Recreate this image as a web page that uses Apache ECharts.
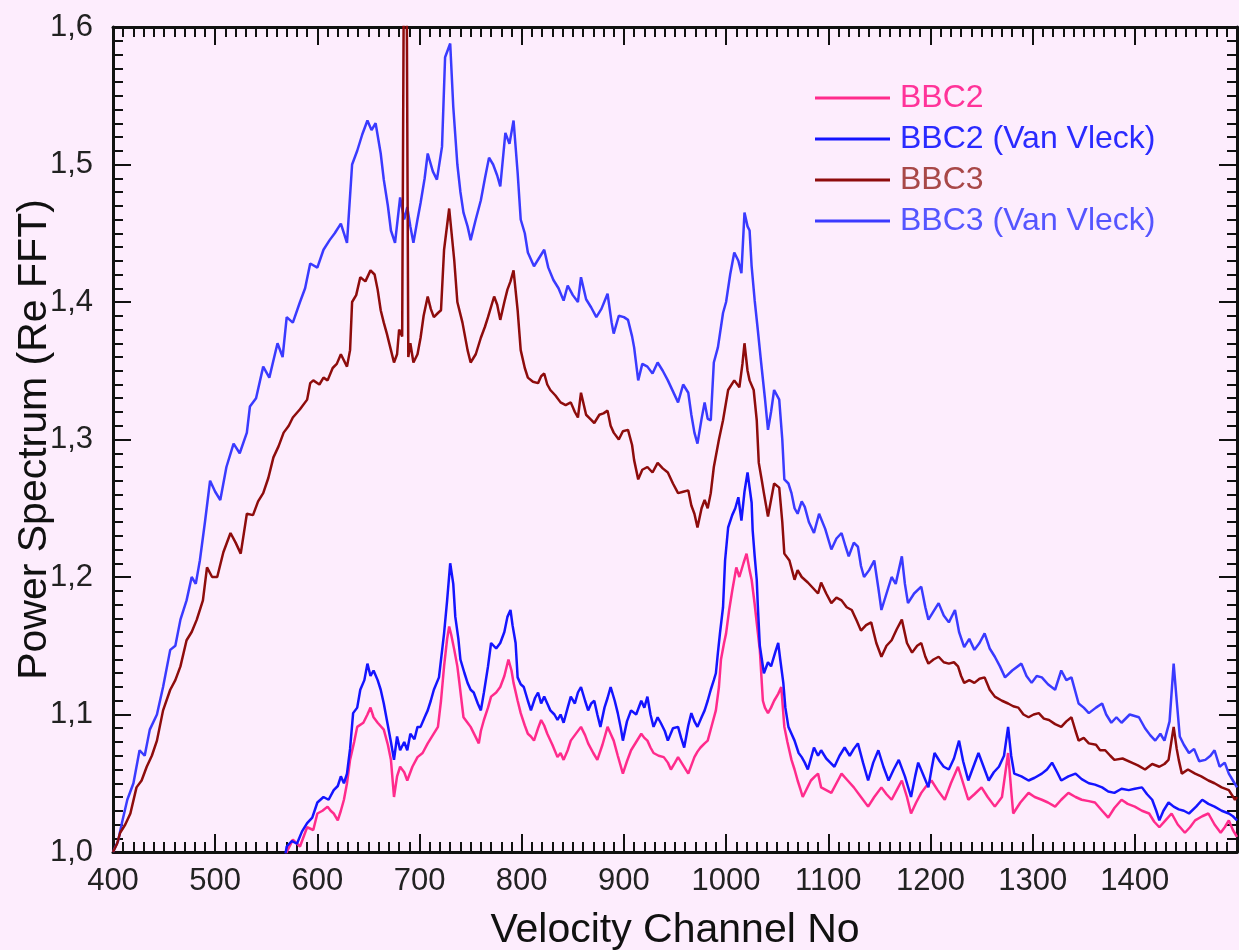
<!DOCTYPE html>
<html>
<head>
<meta charset="utf-8">
<script src="https://cdn.jsdelivr.net/npm/echarts@6/dist/echarts.min.js"></script>
<style>
  html, body { margin: 0; padding: 0; background: #fdedfd; }
  #chart { width: 1239px; height: 950px; }
</style>
</head>
<body>
<div id="chart"></div>
<script>
// [channel, power] pairs
var bbc2 = [[568,0.992],[570,1.000],[576,1.009],[583,1.004],[587,1.012],[590,1.018],[596,1.016],[600,1.028],[605,1.030],[610,1.033],[613,1.030],[616,1.028],[620,1.023],[623,1.030],[626,1.038],[629,1.050],[632,1.067],[636,1.080],[639,1.091],[645,1.094],[649,1.100],[652,1.105],[655,1.098],[659,1.094],[665,1.089],[669,1.078],[672,1.067],[675,1.040],[678,1.055],[681,1.062],[685,1.058],[688,1.052],[693,1.062],[698,1.069],[703,1.072],[708,1.079],[713,1.085],[718,1.091],[721,1.110],[724,1.135],[727,1.155],[729,1.164],[731,1.158],[734,1.147],[737,1.135],[739,1.123],[743,1.098],[747,1.094],[750,1.091],[754,1.085],[758,1.079],[760,1.088],[763,1.096],[767,1.105],[770,1.113],[775,1.116],[779,1.120],[783,1.128],[787,1.140],[790,1.132],[792,1.123],[796,1.110],[799,1.101],[803,1.092],[806,1.086],[809,1.084],[812,1.081],[816,1.090],[819,1.096],[822,1.092],[825,1.086],[830,1.078],[835,1.069],[838,1.072],[841,1.067],[845,1.074],[848,1.081],[852,1.085],[858,1.091],[862,1.085],[865,1.079],[870,1.072],[874,1.067],[879,1.078],[884,1.091],[887,1.086],[890,1.081],[894,1.070],[899,1.057],[903,1.066],[907,1.074],[912,1.080],[917,1.086],[920,1.083],[923,1.081],[926,1.076],[929,1.072],[934,1.070],[939,1.069],[943,1.065],[946,1.060],[950,1.065],[953,1.069],[958,1.063],[963,1.057],[966,1.063],[969,1.069],[972,1.073],[975,1.076],[979,1.079],[982,1.081],[986,1.092],[990,1.103],[993,1.120],[995,1.140],[998,1.152],[1000,1.159],[1003,1.176],[1006,1.190],[1010,1.207],[1013,1.200],[1017,1.210],[1020,1.217],[1023,1.205],[1025,1.198],[1028,1.180],[1031,1.160],[1033,1.147],[1036,1.110],[1038,1.105],[1041,1.101],[1044,1.105],[1047,1.110],[1051,1.115],[1054,1.120],[1057,1.091],[1060,1.080],[1064,1.067],[1067,1.060],[1070,1.052],[1073,1.045],[1075,1.040],[1079,1.046],[1083,1.052],[1087,1.055],[1090,1.057],[1093,1.047],[1098,1.045],[1103,1.043],[1108,1.050],[1113,1.057],[1119,1.052],[1125,1.047],[1132,1.040],[1139,1.033],[1145,1.040],[1152,1.047],[1157,1.042],[1162,1.038],[1167,1.045],[1172,1.052],[1177,1.040],[1181,1.028],[1186,1.036],[1191,1.043],[1196,1.048],[1201,1.052],[1207,1.045],[1214,1.038],[1220,1.050],[1227,1.062],[1232,1.050],[1237,1.038],[1243,1.042],[1250,1.047],[1256,1.040],[1263,1.033],[1270,1.040],[1276,1.072],[1279,1.045],[1281,1.028],[1288,1.036],[1296,1.043],[1302,1.040],[1309,1.038],[1315,1.036],[1322,1.033],[1328,1.038],[1335,1.043],[1342,1.040],[1348,1.038],[1355,1.037],[1361,1.036],[1368,1.030],[1374,1.025],[1380,1.032],[1387,1.038],[1393,1.035],[1400,1.033],[1407,1.030],[1414,1.028],[1419,1.022],[1424,1.018],[1430,1.023],[1436,1.028],[1442,1.020],[1449,1.014],[1454,1.018],[1459,1.023],[1466,1.026],[1472,1.028],[1478,1.020],[1484,1.014],[1488,1.018],[1492,1.023],[1496,1.016],[1500,1.011]];

var bbc2vv = [[568,0.995],[570,1.004],[575,1.008],[580,1.006],[585,1.015],[590,1.021],[595,1.025],[600,1.036],[606,1.040],[611,1.038],[616,1.045],[620,1.048],[623,1.055],[626,1.050],[629,1.057],[632,1.075],[635,1.101],[639,1.105],[642,1.118],[646,1.125],[649,1.137],[652,1.128],[655,1.132],[659,1.125],[662,1.118],[665,1.108],[668,1.096],[672,1.080],[675,1.067],[678,1.084],[681,1.074],[685,1.080],[688,1.074],[691,1.086],[695,1.082],[698,1.091],[701,1.091],[705,1.098],[708,1.103],[711,1.110],[714,1.118],[719,1.127],[724,1.159],[727,1.183],[730,1.210],[733,1.195],[735,1.171],[738,1.155],[740,1.140],[744,1.130],[747,1.123],[750,1.118],[753,1.116],[757,1.108],[760,1.103],[763,1.116],[767,1.135],[770,1.152],[775,1.148],[779,1.152],[783,1.160],[786,1.171],[789,1.176],[791,1.165],[794,1.152],[796,1.127],[799,1.122],[802,1.120],[806,1.110],[809,1.103],[813,1.112],[816,1.116],[819,1.108],[822,1.113],[825,1.108],[828,1.103],[832,1.100],[835,1.096],[838,1.100],[841,1.094],[845,1.105],[848,1.113],[852,1.108],[855,1.116],[858,1.120],[862,1.110],[865,1.103],[868,1.108],[871,1.110],[874,1.100],[877,1.091],[881,1.105],[884,1.112],[887,1.120],[891,1.110],[894,1.101],[897,1.090],[899,1.081],[903,1.095],[907,1.103],[912,1.100],[917,1.110],[920,1.105],[923,1.113],[926,1.100],[929,1.091],[933,1.098],[936,1.094],[940,1.088],[943,1.081],[948,1.090],[953,1.091],[956,1.083],[959,1.076],[963,1.092],[966,1.101],[969,1.095],[972,1.091],[976,1.098],[979,1.103],[982,1.110],[985,1.118],[988,1.125],[990,1.130],[992,1.145],[994,1.159],[997,1.178],[999,1.212],[1002,1.236],[1006,1.245],[1009,1.250],[1012,1.258],[1015,1.241],[1018,1.262],[1021,1.276],[1023,1.265],[1025,1.254],[1026,1.234],[1028,1.215],[1030,1.198],[1031,1.180],[1033,1.150],[1037,1.130],[1041,1.138],[1044,1.135],[1048,1.145],[1051,1.152],[1053,1.140],[1056,1.123],[1058,1.105],[1061,1.091],[1064,1.086],[1067,1.081],[1071,1.072],[1074,1.069],[1077,1.065],[1080,1.060],[1083,1.068],[1086,1.076],[1090,1.070],[1093,1.074],[1098,1.068],[1102,1.065],[1106,1.062],[1111,1.070],[1116,1.076],[1121,1.070],[1125,1.075],[1129,1.079],[1134,1.065],[1139,1.052],[1144,1.065],[1149,1.074],[1154,1.062],[1159,1.052],[1164,1.060],[1169,1.067],[1175,1.055],[1181,1.040],[1185,1.055],[1188,1.065],[1193,1.056],[1198,1.047],[1201,1.060],[1204,1.072],[1209,1.066],[1213,1.062],[1218,1.060],[1223,1.068],[1228,1.081],[1232,1.066],[1237,1.052],[1242,1.062],[1247,1.072],[1252,1.062],[1257,1.052],[1262,1.058],[1267,1.062],[1272,1.070],[1276,1.091],[1279,1.070],[1282,1.057],[1289,1.055],[1296,1.052],[1302,1.054],[1309,1.057],[1314,1.060],[1319,1.065],[1324,1.058],[1328,1.052],[1335,1.055],[1342,1.057],[1348,1.053],[1355,1.050],[1361,1.049],[1368,1.047],[1374,1.044],[1380,1.043],[1387,1.046],[1394,1.045],[1400,1.046],[1407,1.047],[1412,1.042],[1417,1.038],[1421,1.030],[1424,1.023],[1428,1.030],[1433,1.036],[1438,1.033],[1443,1.031],[1448,1.030],[1453,1.028],[1460,1.033],[1466,1.038],[1472,1.035],[1478,1.033],[1485,1.030],[1492,1.028],[1496,1.026],[1500,1.023]];

var bbc3 = [[400,1.000],[404,1.006],[407,1.014],[412,1.020],[417,1.028],[423,1.047],[428,1.052],[433,1.062],[438,1.070],[443,1.081],[449,1.103],[456,1.118],[461,1.125],[466,1.135],[472,1.154],[477,1.160],[482,1.169],[488,1.183],[492,1.207],[497,1.200],[502,1.200],[508,1.218],[515,1.232],[520,1.225],[525,1.217],[531,1.246],[537,1.245],[542,1.255],[547,1.261],[552,1.272],[557,1.287],[562,1.295],[567,1.305],[572,1.310],[576,1.316],[583,1.322],[590,1.329],[593,1.341],[596,1.343],[602,1.340],[606,1.345],[610,1.343],[615,1.352],[619,1.355],[623,1.362],[629,1.353],[632,1.365],[634,1.400],[638,1.405],[642,1.418],[647,1.415],[652,1.423],[656,1.420],[659,1.409],[662,1.394],[665,1.385],[668,1.377],[672,1.365],[675,1.356],[678,1.362],[680,1.380],[683,1.375],[685,1.700],[687,1.700],[689,1.360],[691,1.370],[694,1.356],[698,1.362],[701,1.374],[704,1.390],[708,1.404],[711,1.395],[714,1.389],[718,1.392],[721,1.394],[724,1.438],[729,1.468],[734,1.430],[737,1.400],[742,1.385],[747,1.365],[750,1.356],[755,1.362],[760,1.374],[764,1.382],[767,1.389],[773,1.404],[776,1.398],[779,1.387],[783,1.400],[786,1.409],[789,1.415],[792,1.423],[796,1.394],[799,1.365],[803,1.352],[806,1.345],[811,1.342],[816,1.341],[819,1.346],[822,1.348],[825,1.340],[828,1.336],[833,1.332],[838,1.327],[843,1.325],[848,1.327],[852,1.320],[855,1.316],[858,1.334],[863,1.318],[867,1.315],[871,1.312],[876,1.318],[880,1.319],[884,1.321],[887,1.310],[890,1.305],[895,1.300],[899,1.306],[904,1.307],[908,1.296],[910,1.285],[914,1.271],[918,1.278],[923,1.280],[928,1.276],[933,1.283],[938,1.279],[943,1.276],[948,1.268],[953,1.261],[958,1.262],[963,1.263],[966,1.252],[969,1.246],[972,1.236],[976,1.250],[979,1.256],[982,1.250],[985,1.261],[988,1.280],[993,1.300],[997,1.314],[1002,1.336],[1008,1.343],[1013,1.338],[1016,1.355],[1018,1.370],[1021,1.350],[1023,1.343],[1027,1.336],[1030,1.314],[1032,1.283],[1035,1.270],[1037,1.261],[1041,1.244],[1044,1.256],[1047,1.268],[1052,1.265],[1055,1.240],[1057,1.217],[1062,1.212],[1067,1.198],[1070,1.205],[1074,1.200],[1080,1.196],[1085,1.192],[1090,1.188],[1093,1.196],[1098,1.188],[1103,1.181],[1108,1.185],[1113,1.183],[1118,1.178],[1123,1.176],[1128,1.168],[1132,1.161],[1137,1.165],[1142,1.167],[1147,1.152],[1152,1.142],[1157,1.150],[1162,1.154],[1167,1.162],[1172,1.169],[1177,1.152],[1182,1.145],[1187,1.150],[1191,1.152],[1195,1.142],[1198,1.137],[1203,1.140],[1208,1.142],[1213,1.138],[1218,1.137],[1223,1.138],[1227,1.135],[1230,1.128],[1233,1.123],[1238,1.125],[1243,1.123],[1248,1.126],[1253,1.127],[1258,1.118],[1263,1.113],[1270,1.110],[1276,1.108],[1281,1.106],[1286,1.105],[1291,1.100],[1296,1.098],[1301,1.100],[1306,1.101],[1311,1.097],[1316,1.096],[1322,1.093],[1328,1.091],[1333,1.095],[1338,1.098],[1342,1.088],[1345,1.081],[1350,1.083],[1355,1.079],[1362,1.078],[1366,1.074],[1371,1.074],[1376,1.070],[1380,1.067],[1388,1.068],[1397,1.065],[1403,1.063],[1410,1.060],[1417,1.064],[1424,1.062],[1429,1.064],[1433,1.067],[1438,1.091],[1441,1.075],[1443,1.067],[1446,1.057],[1452,1.060],[1459,1.057],[1465,1.055],[1472,1.052],[1478,1.050],[1485,1.047],[1492,1.045],[1498,1.038],[1500,1.040]];

var bbc3vv = [[400,1.000],[405,1.008],[409,1.022],[414,1.038],[420,1.050],[426,1.074],[431,1.070],[436,1.089],[443,1.100],[449,1.120],[456,1.147],[461,1.150],[466,1.169],[472,1.183],[477,1.200],[481,1.195],[485,1.212],[490,1.240],[495,1.270],[500,1.262],[505,1.256],[511,1.280],[518,1.297],[524,1.290],[531,1.305],[534,1.324],[540,1.330],[547,1.353],[553,1.345],[561,1.370],[566,1.360],[570,1.389],[576,1.385],[583,1.400],[588,1.410],[593,1.428],[600,1.425],[606,1.438],[612,1.445],[617,1.450],[623,1.457],[629,1.443],[634,1.500],[639,1.510],[644,1.522],[649,1.532],[653,1.525],[657,1.530],[662,1.508],[665,1.489],[669,1.470],[672,1.452],[676,1.443],[681,1.476],[685,1.460],[688,1.469],[691,1.455],[694,1.443],[698,1.460],[701,1.472],[705,1.490],[708,1.508],[713,1.495],[717,1.489],[722,1.513],[725,1.578],[730,1.588],[733,1.542],[737,1.500],[740,1.480],[743,1.465],[747,1.455],[750,1.445],[755,1.460],[760,1.474],[764,1.490],[768,1.505],[772,1.500],[776,1.492],[779,1.484],[784,1.523],[788,1.515],[792,1.532],[796,1.494],[799,1.460],[803,1.450],[806,1.436],[812,1.426],[817,1.432],[822,1.438],[826,1.425],[831,1.416],[836,1.410],[841,1.401],[845,1.412],[850,1.405],[855,1.400],[858,1.418],[863,1.402],[868,1.396],[873,1.389],[878,1.395],[884,1.406],[888,1.385],[890,1.377],[895,1.390],[900,1.389],[904,1.387],[908,1.375],[910,1.367],[914,1.343],[918,1.355],[923,1.353],[928,1.348],[933,1.356],[938,1.350],[943,1.343],[948,1.335],[953,1.327],[958,1.340],[963,1.334],[966,1.318],[969,1.305],[972,1.297],[976,1.315],[979,1.327],[982,1.315],[985,1.314],[988,1.356],[992,1.367],[997,1.392],[1000,1.400],[1004,1.420],[1008,1.436],[1012,1.430],[1015,1.421],[1018,1.465],[1021,1.455],[1023,1.452],[1025,1.426],[1028,1.401],[1031,1.380],[1034,1.358],[1038,1.330],[1041,1.307],[1044,1.320],[1047,1.336],[1052,1.329],[1055,1.300],[1057,1.271],[1061,1.268],[1064,1.261],[1067,1.250],[1070,1.246],[1074,1.255],[1077,1.251],[1081,1.240],[1086,1.232],[1091,1.246],[1097,1.235],[1103,1.220],[1108,1.228],[1113,1.232],[1117,1.222],[1120,1.215],[1125,1.225],[1129,1.222],[1132,1.208],[1135,1.200],[1140,1.205],[1145,1.212],[1149,1.192],[1152,1.176],[1157,1.188],[1162,1.200],[1166,1.195],[1172,1.215],[1175,1.195],[1178,1.181],[1184,1.188],[1191,1.193],[1195,1.178],[1198,1.169],[1203,1.175],[1208,1.181],[1213,1.172],[1218,1.167],[1224,1.176],[1228,1.160],[1233,1.149],[1238,1.155],[1243,1.147],[1248,1.152],[1253,1.159],[1258,1.148],[1263,1.142],[1268,1.135],[1273,1.127],[1280,1.132],[1289,1.137],[1294,1.128],[1299,1.123],[1304,1.128],[1309,1.127],[1315,1.122],[1322,1.118],[1328,1.132],[1333,1.125],[1338,1.127],[1345,1.108],[1350,1.105],[1355,1.101],[1362,1.105],[1368,1.108],[1372,1.100],[1377,1.094],[1382,1.098],[1387,1.094],[1395,1.100],[1404,1.098],[1410,1.090],[1415,1.085],[1420,1.081],[1425,1.086],[1429,1.081],[1434,1.095],[1438,1.137],[1441,1.110],[1444,1.084],[1448,1.078],[1453,1.072],[1458,1.075],[1463,1.066],[1469,1.067],[1474,1.070],[1478,1.074],[1483,1.062],[1488,1.065],[1492,1.057],[1496,1.052],[1500,1.047]];

var seriesNames = ['BBC2', 'BBC2 (Van Vleck)', 'BBC3', 'BBC3 (Van Vleck)'];
var lineColors = ['#ff2b8c', '#1414ff', '#8e0c0c', '#3a3aff'];
var textColors = ['#ff3399', '#2a2aff', '#a84848', '#5555ff'];

var FONT = '"Liberation Sans", Arial, sans-serif';

var chart = echarts.init(document.getElementById('chart'));

var tickStyle = { color: '#111', width: 2 };
var axisBase = {
    axisLine: { show: true, onZero: false, lineStyle: { color: '#111', width: 3 } },
    axisTick: { show: true, inside: true, length: 18, lineStyle: tickStyle },
    minorTick: { show: true, splitNumber: 10, length: 10, lineStyle: tickStyle },
    splitLine: { show: false }
};

function lineSeries(i, data) {
    return {
        name: seriesNames[i],
        type: 'line',
        data: data,
        symbol: 'none',
        clip: true,
        lineStyle: { color: lineColors[i], width: 2.5 },
        itemStyle: { color: lineColors[i] }
    };
}

chart.setOption({
    animation: false,
    backgroundColor: '#fdedfd',
    textStyle: { fontFamily: FONT },
    grid: { left: 113, top: 27, right: 2, bottom: 98, containLabel: false, outerBoundsMode: 'none' },
    legend: {
        orient: 'vertical',
        left: 810,
        top: 77,
        icon: 'rect',
        itemWidth: 75,
        itemHeight: 3,
        itemGap: 9,
        textStyle: { fontSize: 32, fontFamily: FONT, padding: [0, 0, 0, 5] },
        data: seriesNames.map(function (n, i) {
            return { name: n, textStyle: { color: textColors[i] } };
        })
    },
    xAxis: [
        Object.assign({}, axisBase, {
            type: 'value', min: 400, max: 1500, interval: 100, position: 'bottom',
            name: 'Velocity Channel No', nameLocation: 'middle', nameGap: 58,
            nameMoveOverlap: false,
            nameTextStyle: { fontSize: 41, color: '#111', fontFamily: FONT },
            axisLabel: {
                fontSize: 31, color: '#222', margin: 14, showMaxLabel: false,
                formatter: function (v) { return String(v); }
            }
        }),
        Object.assign({}, axisBase, {
            type: 'value', min: 400, max: 1500, interval: 100, position: 'top',
            axisLabel: { show: false }
        })
    ],
    yAxis: [
        Object.assign({}, axisBase, {
            type: 'value', min: 1.0, max: 1.6, interval: 0.1, position: 'left',
            name: 'Power Spectrum (Re FFT)', nameLocation: 'middle', nameGap: 58,
            nameMoveOverlap: false,
            nameTextStyle: { fontSize: 41, color: '#111', fontFamily: FONT },
            axisLabel: {
                fontSize: 31, color: '#222', margin: 20,
                formatter: function (v) { return v.toFixed(1).replace('.', ','); }
            }
        }),
        Object.assign({}, axisBase, {
            type: 'value', min: 1.0, max: 1.6, interval: 0.1, position: 'right',
            axisLabel: { show: false }
        })
    ],
    series: [
        lineSeries(0, bbc2),
        lineSeries(1, bbc2vv),
        lineSeries(3, bbc3vv),
        lineSeries(2, bbc3)
    ]
});
</script>
</body>
</html>
